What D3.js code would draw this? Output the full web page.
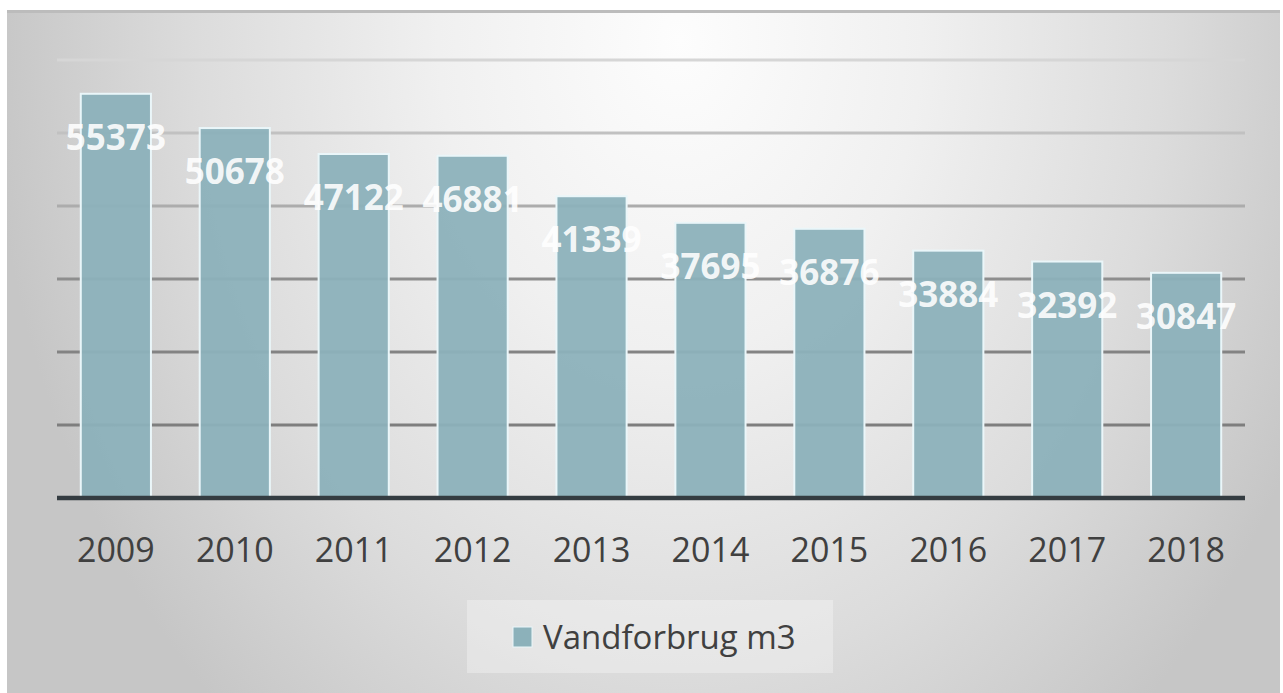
<!DOCTYPE html>
<html>
<head>
<meta charset="utf-8">
<script src="https://cdn.jsdelivr.net/npm/d3@7"></script>
<style>
  body { margin: 0; background: #fff; }
  svg { display: block; }
</style>
</head>
<body>
<svg id="chart" width="1283" height="693"></svg>
<script>
// data
const years = ["2009", "2010", "2011", "2012", "2013", "2014", "2015", "2016", "2017", "2018"];
const values = [55373, 50678, 47122, 46881, 41339, 37695, 36876, 33884, 32392, 30847];
const yTicks = [0, 10000, 20000, 30000, 40000, 50000, 60000];
const seriesName = "Vandforbrug m3";

const W = 1283, H = 693;
const plot = {left: 57, right: 1245, top: 60, bottom: 498};

const svg = d3.select("#chart");
const defs = svg.append("defs");

// background gradient, light at the top middle, gray at the edges
const bg = defs.append("radialGradient")
  .attr("id", "bg")
  .attr("gradientUnits", "userSpaceOnUse")
  .attr("cx", 680).attr("cy", 40).attr("r", 690)
  .attr("gradientTransform", "translate(680,40) scale(1,1.3) translate(-680,-40)");
bg.append("stop").attr("offset", "0").attr("stop-color", "#fdfdfd");
bg.append("stop").attr("offset", "0.35").attr("stop-color", "#f0f0f0");
bg.append("stop").attr("offset", "0.7").attr("stop-color", "#dcdcdc");
bg.append("stop").attr("offset", "1").attr("stop-color", "#c6c6c6");

svg.append("rect")
  .attr("x", 7).attr("y", 10)
  .attr("width", 1273).attr("height", H - 10)
  .attr("fill", "url(#bg)");

// top edge of the frame
svg.append("line")
  .attr("x1", 7).attr("x2", 1280)
  .attr("y1", 11.5).attr("y2", 11.5)
  .attr("stroke", "#bcbcbc").attr("stroke-width", 3);

const x = d3.scaleBand()
  .domain(years)
  .range([plot.left, plot.right])
  .paddingInner(0.41)
  .paddingOuter(0.2);

const y = d3.scaleLinear()
  .domain([0, 60000])
  .range([plot.bottom, plot.top]);

// gridlines get darker towards the bottom
const gridColor = d3.scaleLinear()
  .domain([plot.top, 206, 300, plot.bottom])
  .range(["#d6d6d6", "#acacac", "#868686", "#7a7a7a"]);

svg.append("g").selectAll("line")
  .data(yTicks.slice(1))
  .enter().append("line")
  .attr("x1", plot.left).attr("x2", plot.right)
  .attr("y1", d => y(d)).attr("y2", d => y(d))
  .attr("stroke", d => gridColor(y(d)))
  .attr("stroke-width", 3);

// bars
svg.append("g").selectAll("rect")
  .data(values)
  .enter().append("rect")
  .attr("x", (d, i) => x(years[i]))
  .attr("y", d => y(d))
  .attr("width", x.bandwidth())
  .attr("height", d => y(0) - y(d))
  .attr("fill", "#8cb1ba")
  .attr("fill-opacity", 0.95)
  .attr("stroke", "#eaf6f9")
  .attr("stroke-width", 2);

// baseline
svg.append("line")
  .attr("x1", plot.left).attr("x2", plot.right)
  .attr("y1", y(0)).attr("y2", y(0))
  .attr("stroke", "#343c41").attr("stroke-width", 4.5);

// data labels
svg.append("g").selectAll("text")
  .data(values)
  .enter().append("text")
  .attr("x", (d, i) => x(years[i]) + x.bandwidth() / 2)
  .attr("y", d => y(d) + 56)
  .attr("text-anchor", "middle")
  .attr("font-family", "'Open Sans', sans-serif")
  .attr("font-weight", 700)
  .attr("font-size", 35)
  .attr("fill", "#ffffff")
  .attr("fill-opacity", 0.9)
  .text(d => d);

// x axis labels
const xAxis = svg.append("g")
  .attr("transform", "translate(0," + y(0) + ")")
  .call(d3.axisBottom(x).tickSize(0).tickPadding(50));
xAxis.select(".domain").remove();
xAxis.selectAll("text")
  .attr("font-family", "'Open Sans', sans-serif")
  .attr("font-size", 34)
  .attr("fill", "#404040")
  .attr("dy", "0.4em");

// legend
const legend = svg.append("g");
legend.append("rect")
  .attr("x", 467).attr("y", 600)
  .attr("width", 366).attr("height", 73)
  .attr("fill", "#ffffff").attr("fill-opacity", 0.3);
legend.append("rect")
  .attr("x", 513).attr("y", 627)
  .attr("width", 19).attr("height", 20)
  .attr("fill", "#8cb1ba")
  .attr("stroke", "#eaf6f9").attr("stroke-width", 1);
legend.append("text")
  .attr("x", 543).attr("y", 649)
  .attr("font-family", "'Open Sans', sans-serif")
  .attr("font-size", 33)
  .attr("fill", "#404040")
  .text(seriesName);
</script>
</body>
</html>
